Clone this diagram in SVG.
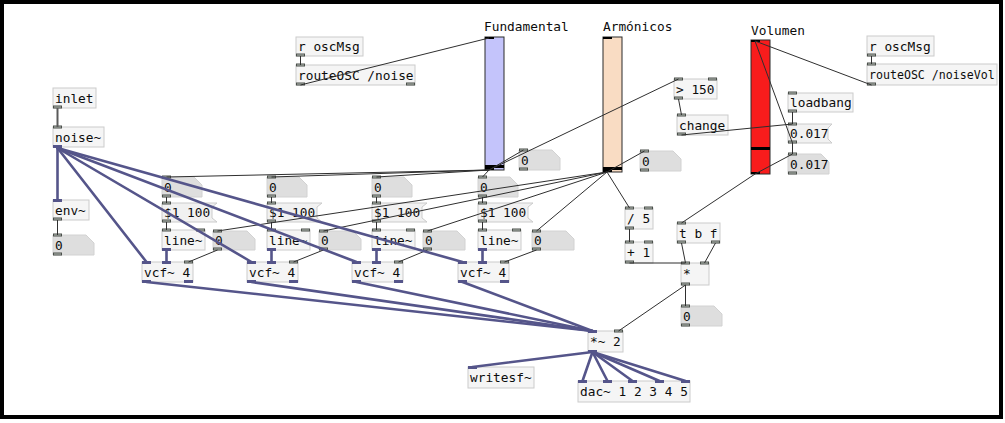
<svg xmlns="http://www.w3.org/2000/svg" width="1005" height="423" viewBox="0 0 1005 423">
<style>
  .box { fill:#f5f5f5; stroke:#cbcbcb; stroke-width:1; }
  .msg { fill:#f1f1f1; stroke:#cbcbcb; stroke-width:1; }
  .num { fill:#dedede; stroke:#d2d2d2; stroke-width:1; }
  .t { font-family:"DejaVu Sans Mono","Liberation Mono",monospace; font-size:12.8px; fill:#0c0c0c; }
  .narrow { font-size:11.6px; }
  .io { fill:#b9c1b9; stroke:#4a4f4a; stroke-width:1; }
  .sio { fill:#55558a; }
  .knob { fill:#000; }
  .sl { stroke:#2a2a2a; stroke-width:1; }
  .c { stroke:#2f2f2f; stroke-width:1; fill:none; }
  .s { stroke:#55558a; stroke-width:2.6; fill:none; stroke-linecap:round; }
  .g { stroke:#5a5a5a; stroke-width:2; fill:none; }
</style>
<defs>
  <rect id="ci" class="io" width="8" height="2"/>
  <rect id="si" class="sio" width="9" height="3"/>
</defs>
<rect x="0" y="0" width="1005" height="423" fill="#fff"/>

<!-- objects -->
<g id="inlet"><rect class="box" x="53" y="88" width="43" height="20"/><text class="t" x="55" y="102.5">inlet</text><use href="#ci" x="53.5" y="106"/></g>
<g id="noise"><rect class="box" x="53" y="127" width="51" height="20"/><text class="t" x="55" y="141.5">noise~</text><use href="#ci" x="53.5" y="126"/><use href="#si" x="53" y="145"/></g>
<g id="env"><rect class="box" x="53" y="200" width="36" height="20"/><text class="t" x="55" y="214.5">env~</text><use href="#si" x="53" y="199"/><use href="#ci" x="53.5" y="218"/></g>
<g id="env-num"><path class="num" d="M53 235 H86 L94 243 V255 H53 Z"/><text class="t" x="55" y="249.5">0</text><use href="#ci" x="53.5" y="234"/><use href="#ci" x="53.5" y="253"/></g>

<g id="recv-noise"><rect class="box" x="296" y="37" width="67" height="19"/><text class="t" x="298" y="51">r oscMsg</text><use href="#ci" x="296.5" y="54"/></g>
<g id="route-noise"><rect class="box" x="296" y="65" width="119" height="20"/><text class="t" x="298" y="79.5">routeOSC /noise</text><use href="#ci" x="296.5" y="64"/><use href="#ci" x="296.5" y="83"/><use href="#ci" x="406.5" y="83"/></g>

<g id="fundamental"><text class="t" x="484" y="31">Fundamental</text><rect class="sl" x="485" y="37" width="19" height="133" fill="#c4c4fb"/><rect class="knob" x="485" y="165" width="19" height="3"/><rect class="knob" x="485" y="37" width="9" height="2"/><rect class="knob" x="485" y="168" width="9" height="2"/></g>
<g id="fund-num"><path class="num" d="M519 150 H552 L560 158 V170 H519 Z"/><text class="t" x="521" y="164.5">0</text><use href="#ci" x="519.5" y="149"/><use href="#ci" x="519.5" y="168"/></g>

<g id="armonicos"><text class="t" x="603" y="31">Armónicos</text><rect class="sl" x="603" y="37" width="19" height="135" fill="#f9dcc3"/><rect class="knob" x="603" y="167" width="19" height="3"/><rect class="knob" x="603" y="37" width="9" height="2"/><rect class="knob" x="603" y="170" width="9" height="2"/></g>
<g id="arm-num"><path class="num" d="M640 151 H673 L681 159 V171 H640 Z"/><text class="t" x="642" y="165.5">0</text><use href="#ci" x="640.5" y="150"/><use href="#ci" x="640.5" y="169"/></g>

<g id="gt150"><rect class="box" x="674" y="79" width="43" height="20"/><text class="t" x="676" y="93.5">&gt; 150</text><use href="#ci" x="674.5" y="78"/><use href="#ci" x="708.5" y="78"/><use href="#ci" x="674.5" y="97"/></g>
<g id="change"><rect class="box" x="677" y="115" width="51" height="20"/><text class="t" x="679" y="129.5">change</text><use href="#ci" x="677.5" y="114"/><use href="#ci" x="677.5" y="133"/></g>

<g id="volumen"><text class="t" x="751" y="35">Volumen</text><rect class="sl" x="751" y="40" width="19" height="134" fill="#f81c1c"/><rect class="knob" x="751" y="147" width="19" height="3"/><rect class="knob" x="751" y="40" width="9" height="2"/><rect class="knob" x="751" y="172" width="9" height="2"/></g>
<g id="loadbang"><rect class="box" x="788" y="93" width="65" height="19"/><text class="t" x="790" y="107">loadbang</text><use href="#ci" x="788.5" y="92"/><use href="#ci" x="788.5" y="110"/></g>
<g id="vol-msg"><path class="msg" d="M788 124 H832 L828 128 V139 L832 143 H788 Z"/><text class="t" x="790" y="138">0.017</text><use href="#ci" x="788.5" y="123"/><use href="#ci" x="788.5" y="141"/></g>
<g id="vol-num"><path class="num" d="M788 154 H821 L829 162 V174 H788 Z"/><text class="t" x="790" y="168.5">0.017</text><use href="#ci" x="788.5" y="153"/><use href="#ci" x="788.5" y="172"/></g>

<g id="recv-vol"><rect class="box" x="867" y="36" width="67" height="20"/><text class="t" x="869" y="50.5">r oscMsg</text><use href="#ci" x="867.5" y="54"/></g>
<g id="route-vol"><rect class="box" x="867" y="64" width="130" height="21"/><text class="t narrow" x="869" y="79">routeOSC /noiseVol</text><use href="#ci" x="867.5" y="63"/><use href="#ci" x="867.5" y="83"/></g>

<g id="div5"><rect class="box" x="625" y="208" width="28" height="21"/><text class="t" x="627" y="222.5">/ 5</text><use href="#ci" x="625.5" y="207"/><use href="#ci" x="644.5" y="207"/><use href="#ci" x="625.5" y="227"/></g>
<g id="add1"><rect class="box" x="625" y="242" width="28" height="21"/><text class="t" x="627" y="256.5">+ 1</text><use href="#ci" x="625.5" y="241"/><use href="#ci" x="644.5" y="241"/><use href="#ci" x="625.5" y="261"/></g>
<g id="tbf"><rect class="box" x="677" y="223" width="43" height="20"/><text class="t" x="679" y="237.5">t b f</text><use href="#ci" x="677.5" y="222"/><use href="#ci" x="677.5" y="241"/><use href="#ci" x="711.5" y="241"/></g>
<g id="mul"><rect class="box" x="681" y="263" width="28" height="22"/><text class="t" x="683" y="278">*</text><use href="#ci" x="681.5" y="262"/><use href="#ci" x="700.5" y="262"/><use href="#ci" x="681.5" y="283"/></g>
<g id="mul-num"><path class="num" d="M681 306 H714 L722 314 V326 H681 Z"/><text class="t" x="683" y="320.5">0</text><use href="#ci" x="681.5" y="305"/><use href="#ci" x="681.5" y="324"/></g>

<g id="gain"><rect class="box" x="588" y="331" width="35" height="21"/><text class="t" x="590" y="345.5">*~ 2</text><use href="#si" x="588" y="330"/><use href="#ci" x="614.5" y="330"/><use href="#si" x="588" y="350"/></g>
<g id="writesf"><rect class="box" x="468" y="367" width="66" height="21"/><text class="t" x="470" y="381.5">writesf~</text><use href="#si" x="468" y="366"/></g>
<g id="dac"><rect class="box" x="578" y="381" width="112" height="21"/><text class="t" x="580" y="395.5">dac~ 1 2 3 4 5</text><use href="#si" x="578" y="380"/><use href="#si" x="603" y="380"/><use href="#si" x="628" y="380"/><use href="#si" x="655" y="380"/><use href="#si" x="681" y="380"/></g>

<!-- filter band 1 -->
<g id="band1">
  <path class="num" d="M162 177 H194 L202 185 V197 H162 Z"/><text class="t" x="164" y="191.5">0</text><use href="#ci" x="162.5" y="176"/><use href="#ci" x="162.5" y="195"/>
  <path class="msg" d="M162 203 H217 L212 207 V218 L217 222 H162 Z"/><text class="t" x="164" y="217">$1 100</text><use href="#ci" x="162.5" y="202"/><use href="#ci" x="162.5" y="220"/>
  <rect class="box" x="162" y="230" width="43" height="20"/><text class="t" x="164" y="244.5">line~</text><use href="#ci" x="162.5" y="229"/><use href="#ci" x="196.5" y="229"/><use href="#si" x="162" y="248"/>
  <path class="num" d="M213 231 H247 L255 239 V250 H213 Z"/><text class="t" x="215" y="245">0</text><use href="#ci" x="213.5" y="230"/><use href="#ci" x="213.5" y="248"/>
  <rect class="box" x="142" y="262" width="51" height="20"/><text class="t" x="144" y="276.5">vcf~ 4</text><use href="#si" x="142" y="261"/><use href="#si" x="162" y="261"/><use href="#ci" x="184.5" y="261"/><use href="#si" x="142" y="280"/><use href="#si" x="184" y="280"/>
</g>
<!-- filter band 2 -->
<g id="band2">
  <path class="num" d="M267 177 H299 L307 185 V197 H267 Z"/><text class="t" x="269" y="191.5">0</text><use href="#ci" x="267.5" y="176"/><use href="#ci" x="267.5" y="195"/>
  <path class="msg" d="M267 203 H322 L317 207 V218 L322 222 H267 Z"/><text class="t" x="269" y="217">$1 100</text><use href="#ci" x="267.5" y="202"/><use href="#ci" x="267.5" y="220"/>
  <rect class="box" x="267" y="230" width="43" height="20"/><text class="t" x="269" y="244.5">line~</text><use href="#ci" x="267.5" y="229"/><use href="#ci" x="301.5" y="229"/><use href="#si" x="267" y="248"/>
  <path class="num" d="M319 231 H353 L361 239 V250 H319 Z"/><text class="t" x="321" y="245">0</text><use href="#ci" x="319.5" y="230"/><use href="#ci" x="319.5" y="248"/>
  <rect class="box" x="247" y="262" width="51" height="20"/><text class="t" x="249" y="276.5">vcf~ 4</text><use href="#si" x="247" y="261"/><use href="#si" x="267" y="261"/><use href="#ci" x="289.5" y="261"/><use href="#si" x="247" y="280"/><use href="#si" x="289" y="280"/>
</g>
<!-- filter band 3 -->
<g id="band3">
  <path class="num" d="M372 177 H404 L412 185 V197 H372 Z"/><text class="t" x="374" y="191.5">0</text><use href="#ci" x="372.5" y="176"/><use href="#ci" x="372.5" y="195"/>
  <path class="msg" d="M372 203 H427 L422 207 V218 L427 222 H372 Z"/><text class="t" x="374" y="217">$1 100</text><use href="#ci" x="372.5" y="202"/><use href="#ci" x="372.5" y="220"/>
  <rect class="box" x="372" y="230" width="43" height="20"/><text class="t" x="374" y="244.5">line~</text><use href="#ci" x="372.5" y="229"/><use href="#ci" x="406.5" y="229"/><use href="#si" x="372" y="248"/>
  <path class="num" d="M423 231 H457 L465 239 V250 H423 Z"/><text class="t" x="425" y="245">0</text><use href="#ci" x="423.5" y="230"/><use href="#ci" x="423.5" y="248"/>
  <rect class="box" x="352" y="262" width="51" height="20"/><text class="t" x="354" y="276.5">vcf~ 4</text><use href="#si" x="352" y="261"/><use href="#si" x="372" y="261"/><use href="#ci" x="394.5" y="261"/><use href="#si" x="352" y="280"/><use href="#si" x="394" y="280"/>
</g>
<!-- filter band 4 -->
<g id="band4">
  <path class="num" d="M478 177 H510 L518 185 V197 H478 Z"/><text class="t" x="480" y="191.5">0</text><use href="#ci" x="478.5" y="176"/><use href="#ci" x="478.5" y="195"/>
  <path class="msg" d="M478 203 H533 L528 207 V218 L533 222 H478 Z"/><text class="t" x="480" y="217">$1 100</text><use href="#ci" x="478.5" y="202"/><use href="#ci" x="478.5" y="220"/>
  <rect class="box" x="478" y="230" width="43" height="20"/><text class="t" x="480" y="244.5">line~</text><use href="#ci" x="478.5" y="229"/><use href="#ci" x="512.5" y="229"/><use href="#si" x="478" y="248"/>
  <path class="num" d="M532 231 H566 L574 239 V250 H532 Z"/><text class="t" x="534" y="245">0</text><use href="#ci" x="532.5" y="230"/><use href="#ci" x="532.5" y="248"/>
  <rect class="box" x="458" y="262" width="51" height="20"/><text class="t" x="460" y="276.5">vcf~ 4</text><use href="#si" x="458" y="261"/><use href="#si" x="478" y="261"/><use href="#ci" x="500.5" y="261"/><use href="#si" x="458" y="280"/><use href="#si" x="500" y="280"/>
</g>

<!-- patch cords -->
<g id="connections">
  <!-- control -->
  <line class="g" x1="57.5" y1="108" x2="57.5" y2="127"/>
  <line class="c" x1="300.5" y1="56" x2="300.5" y2="65"/>
  <line class="c" x1="300.5" y1="85" x2="489" y2="38"/>
  <line class="c" x1="871.5" y1="56" x2="871.5" y2="64"/>
  <line class="c" x1="871.5" y1="85" x2="755" y2="41"/>
  <line class="c" x1="792.5" y1="112" x2="792.5" y2="124"/>
  <line class="c" x1="681.5" y1="135" x2="792.5" y2="124"/>
  <line class="c" x1="678.5" y1="99" x2="681.5" y2="115"/>
  <line class="c" x1="792.5" y1="143" x2="792.5" y2="154"/>
  <line class="c" x1="792.5" y1="143" x2="755" y2="41"/>
  <line class="c" x1="755" y1="174" x2="792.5" y2="154"/>
  <line class="c" x1="755" y1="174" x2="681.5" y2="223"/>
  <line class="c" x1="489" y1="170" x2="523.5" y2="150"/>
  <line class="c" x1="489" y1="170" x2="678.5" y2="79"/>
  <line class="c" x1="489" y1="170" x2="166.5" y2="177"/>
  <line class="c" x1="489" y1="170" x2="271.5" y2="177"/>
  <line class="c" x1="489" y1="170" x2="376.5" y2="177"/>
  <line class="c" x1="489" y1="170" x2="482.5" y2="177"/>
  <line class="c" x1="607" y1="172" x2="644.5" y2="151"/>
  <line class="c" x1="607" y1="172" x2="629.5" y2="208"/>
  <line class="c" x1="607" y1="172" x2="217.5" y2="231"/>
  <line class="c" x1="607" y1="172" x2="323.5" y2="231"/>
  <line class="c" x1="607" y1="172" x2="427.5" y2="231"/>
  <line class="c" x1="607" y1="172" x2="536.5" y2="231"/>
  <line class="c" x1="629.5" y1="229" x2="629.5" y2="242"/>
  <line class="c" x1="629.5" y1="263" x2="685.5" y2="263"/>
  <line class="c" x1="681.5" y1="243" x2="685.5" y2="263"/>
  <line class="c" x1="715.5" y1="243" x2="704.5" y2="263"/>
  <line class="c" x1="685.5" y1="285" x2="685.5" y2="306"/>
  <line class="c" x1="685.5" y1="285" x2="618.5" y2="331"/>
  <line class="c" x1="57.5" y1="220" x2="57.5" y2="235"/>
  <line class="c" x1="166.5" y1="197" x2="166.5" y2="203"/>
  <line class="c" x1="166.5" y1="222" x2="166.5" y2="230"/>
  <line class="c" x1="217.5" y1="250" x2="188.5" y2="262"/>
  <line class="c" x1="271.5" y1="197" x2="271.5" y2="203"/>
  <line class="c" x1="271.5" y1="222" x2="271.5" y2="230"/>
  <line class="c" x1="323.5" y1="250" x2="293.5" y2="262"/>
  <line class="c" x1="376.5" y1="197" x2="376.5" y2="203"/>
  <line class="c" x1="376.5" y1="222" x2="376.5" y2="230"/>
  <line class="c" x1="427.5" y1="250" x2="398.5" y2="262"/>
  <line class="c" x1="482.5" y1="197" x2="482.5" y2="203"/>
  <line class="c" x1="482.5" y1="222" x2="482.5" y2="230"/>
  <line class="c" x1="536.5" y1="250" x2="504.5" y2="262"/>
  <!-- audio -->
  <line class="s" x1="57.5" y1="148" x2="57.5" y2="200"/>
  <line class="s" x1="57.5" y1="148" x2="146.5" y2="262"/>
  <line class="s" x1="57.5" y1="148" x2="251.5" y2="262"/>
  <line class="s" x1="57.5" y1="148" x2="356.5" y2="262"/>
  <line class="s" x1="57.5" y1="148" x2="462.5" y2="262"/>
  <line class="s" x1="166.5" y1="250" x2="166.5" y2="262"/>
  <line class="s" x1="271.5" y1="250" x2="271.5" y2="262"/>
  <line class="s" x1="376.5" y1="250" x2="376.5" y2="262"/>
  <line class="s" x1="482.5" y1="250" x2="482.5" y2="262"/>
  <line class="s" x1="146.5" y1="282" x2="592.5" y2="331"/>
  <line class="s" x1="251.5" y1="282" x2="592.5" y2="331"/>
  <line class="s" x1="356.5" y1="282" x2="592.5" y2="331"/>
  <line class="s" x1="462.5" y1="282" x2="592.5" y2="331"/>
  <line class="s" x1="592.5" y1="352" x2="472.5" y2="367"/>
  <line class="s" x1="592.5" y1="352" x2="582.5" y2="381"/>
  <line class="s" x1="592.5" y1="352" x2="607.5" y2="381"/>
  <line class="s" x1="592.5" y1="352" x2="632.5" y2="381"/>
  <line class="s" x1="592.5" y1="352" x2="659.5" y2="381"/>
  <line class="s" x1="592.5" y1="352" x2="685.5" y2="381"/>
</g>

<!-- canvas frame -->
<rect x="2" y="2" width="999" height="415" fill="none" stroke="#000" stroke-width="4"/>
</svg>
